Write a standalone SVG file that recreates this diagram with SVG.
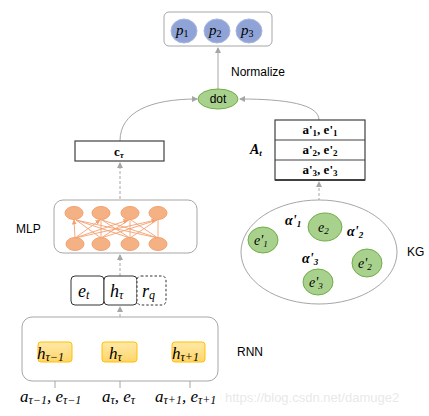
<svg xmlns="http://www.w3.org/2000/svg" width="429" height="416" viewBox="0 0 429 416">
<defs>
<marker id="ah" markerWidth="6" markerHeight="6" refX="5" refY="3" orient="auto" markerUnits="userSpaceOnUse"><path d="M0,0 L6,3 L0,6 z" fill="#a6a6a6"/></marker>
<marker id="ao" markerWidth="5" markerHeight="5" refX="4.5" refY="2.5" orient="auto" markerUnits="userSpaceOnUse"><path d="M0,0 L5,2.5 L0,5 z" fill="#f4a070"/></marker>
<linearGradient id="hg" x1="0" y1="0" x2="0" y2="1"><stop offset="0" stop-color="#ffe9a8"/><stop offset="1" stop-color="#ffd56a"/></linearGradient>
</defs>
<style>
.lbl{font-family:"Liberation Sans",Arial,sans-serif;font-size:12px;fill:#000}
.m{font-family:"Liberation Serif","DejaVu Serif",serif;font-style:italic;fill:#000}
.mb{font-family:"Liberation Serif","DejaVu Serif",serif;font-weight:bold;fill:#000}
.box{fill:#fff;stroke:#a6a6a6;stroke-width:1}
.blk{fill:#fff;stroke:#404040;stroke-width:1.2}
.p{fill:#8fa3d6;stroke:#a9b7e0;stroke-width:1}
.g{fill:#a9d18e;stroke:#70ad47;stroke-width:1}
.n{fill:#f4b183;stroke:#f4a070;stroke-width:1}
.h{fill:url(#hg);stroke:#ffc000;stroke-width:1}
.c{fill:none;stroke:#a6a6a6;stroke-width:1}
.d{fill:none;stroke:#a6a6a6;stroke-width:1;stroke-dasharray:3,2}
.o{stroke:#f4a070;stroke-width:0.9}
</style>

<g id="connectors">
<path class="c" d="M218,89 L218,48" marker-end="url(#ah)"/>
<path class="c" d="M120,141 C120,112 150,99 197,99" marker-end="url(#ah)"/>
<path class="c" d="M319,120 C319,104 285,99 240,99" marker-end="url(#ah)"/>
<path class="d" d="M120,199 L120,163" marker-end="url(#ah)"/>
<path class="d" d="M319,201 L319,182" marker-end="url(#ah)"/>
<path class="d" d="M120,276 L120,255" marker-end="url(#ah)"/>
<path class="d" d="M120,337 L120,307" marker-end="url(#ah)"/>
<path class="c" d="M55,342 C55,330 110,328 119,339" marker-end="url(#ah)"/>
<path class="c" d="M121,339 C130,328 188,330 188,341" marker-end="url(#ah)"/>
<path class="c" d="M55,388 L55,364" marker-end="url(#ah)"/>
<path class="c" d="M120,388 L120,364" marker-end="url(#ah)"/>
<path class="c" d="M190,388 L190,364" marker-end="url(#ah)"/>
<path class="c" d="M309,230 L279,238" marker-end="url(#ah)"/>
<path class="c" d="M322,241 L319,267" marker-end="url(#ah)"/>
<path class="c" d="M337,238 L354,252" marker-end="url(#ah)"/>
</g>

<g id="output">
<rect class="box" x="164" y="12" width="108" height="34" rx="5"/>
<ellipse class="p" cx="184" cy="31" rx="13" ry="12"/>
<ellipse class="p" cx="217" cy="31" rx="13" ry="12"/>
<ellipse class="p" cx="249" cy="31" rx="13" ry="12"/>
<text class="m" x="176" y="35" font-size="15">p<tspan font-size="10" dy="2" font-style="normal">1</tspan></text>
<text class="m" x="209" y="35" font-size="15">p<tspan font-size="10" dy="2" font-style="normal">2</tspan></text>
<text class="m" x="241" y="35" font-size="15">p<tspan font-size="10" dy="2" font-style="normal">3</tspan></text>
</g>
<text class="lbl" x="231" y="76">Normalize</text>

<g id="dot">
<ellipse class="g" cx="218" cy="99" rx="20" ry="10"/>
<text class="lbl" x="218" y="103" text-anchor="middle">dot</text>
</g>

<g id="ctau">
<rect class="blk" x="75" y="141" width="89" height="20"/>
<text class="mb" x="114" y="156" font-size="13">c<tspan class="m" font-size="9" dy="2" fill="#2f5597" font-weight="bold">τ</tspan></text>
</g>

<g id="At">
<text class="m" x="250" y="154" font-size="14" font-weight="bold">A<tspan font-size="9" dy="2">t</tspan></text>
<rect class="blk" x="275" y="120" width="90" height="60"/>
<line x1="275" y1="140" x2="365" y2="140" stroke="#404040" stroke-width="1.2"/>
<line x1="275" y1="160" x2="365" y2="160" stroke="#404040" stroke-width="1.2"/>
<line x1="275" y1="180" x2="365" y2="180" stroke="#404040" stroke-width="2"/>
<text class="mb" x="320" y="134" font-size="13" text-anchor="middle">a'<tspan font-size="9" dy="2">1</tspan><tspan dy="-2">, e'</tspan><tspan font-size="9" dy="2">1</tspan></text>
<text class="mb" x="320" y="154" font-size="13" text-anchor="middle">a'<tspan font-size="9" dy="2">2</tspan><tspan dy="-2">, e'</tspan><tspan font-size="9" dy="2">2</tspan></text>
<text class="mb" x="320" y="174" font-size="13" text-anchor="middle">a'<tspan font-size="9" dy="2">3</tspan><tspan dy="-2">, e'</tspan><tspan font-size="9" dy="2">3</tspan></text>
</g>

<g id="mlp">
<rect class="box" x="54" y="200" width="143" height="53" rx="9"/>
<g>
<line class="o" x1="75" y1="238" x2="74" y2="220" marker-end="url(#ao)"/>
<line class="o" x1="75" y1="238" x2="100" y2="220" marker-end="url(#ao)"/>
<line class="o" x1="75" y1="238" x2="128" y2="220" marker-end="url(#ao)"/>
<line class="o" x1="75" y1="238" x2="156" y2="220" marker-end="url(#ao)"/>
<line class="o" x1="101" y1="238" x2="76" y2="220"/>
<line class="o" x1="101" y1="238" x2="101" y2="220"/>
<line class="o" x1="101" y1="238" x2="129" y2="220"/>
<line class="o" x1="101" y1="238" x2="157" y2="220"/>
<line class="o" x1="130" y1="238" x2="76" y2="220"/>
<line class="o" x1="130" y1="238" x2="102" y2="220"/>
<line class="o" x1="130" y1="238" x2="130" y2="220"/>
<line class="o" x1="130" y1="238" x2="157" y2="220"/>
<line class="o" x1="158" y1="238" x2="76" y2="220"/>
<line class="o" x1="158" y1="238" x2="102" y2="220"/>
<line class="o" x1="158" y1="238" x2="131" y2="220"/>
<line class="o" x1="158" y1="238" x2="158" y2="220"/>
</g>
<ellipse class="n" cx="74" cy="213" rx="9" ry="6.5"/>
<ellipse class="n" cx="101" cy="213" rx="9" ry="6.5"/>
<ellipse class="n" cx="130" cy="213" rx="9" ry="6.5"/>
<ellipse class="n" cx="158" cy="213" rx="9" ry="6.5"/>
<ellipse class="n" cx="75" cy="244" rx="9" ry="6.5"/>
<ellipse class="n" cx="101" cy="244" rx="9" ry="6.5"/>
<ellipse class="n" cx="130" cy="244" rx="9" ry="6.5"/>
<ellipse class="n" cx="158" cy="244" rx="9" ry="6.5"/>
</g>
<text class="lbl" x="16" y="233">MLP</text>

<g id="tokens">
<rect x="71" y="276" width="33" height="29" rx="4" fill="#fff" stroke="#333" stroke-width="1"/>
<rect x="104" y="276" width="33" height="29" rx="4" fill="#fff" stroke="#333" stroke-width="1"/>
<rect x="137" y="276" width="29" height="29" rx="4" fill="#fff" stroke="#333" stroke-width="1" stroke-dasharray="2.5,2"/>
<text class="m" x="78" y="297" font-size="18">e<tspan font-size="12" dy="2">t</tspan></text>
<text class="m" x="110" y="297" font-size="18">h<tspan font-size="12" dy="2">τ</tspan></text>
<text class="m" x="142" y="297" font-size="18">r<tspan font-size="12" dy="2">q</tspan></text>
</g>

<g id="kg">
<ellipse cx="319" cy="252" rx="78" ry="52" fill="#fff" stroke="#a6a6a6" stroke-width="1"/>
<ellipse class="g" cx="325" cy="227" rx="17" ry="14"/>
<ellipse class="g" cx="263" cy="240" rx="15" ry="13"/>
<ellipse class="g" cx="367" cy="263" rx="15" ry="14"/>
<ellipse class="g" cx="318" cy="282" rx="15" ry="13"/>
<text class="m" x="318" y="232" font-size="14">e<tspan font-size="9" dy="2">2</tspan></text>
<text class="m" x="254" y="245" font-size="14">e'<tspan font-size="9" dy="2">1</tspan></text>
<text class="m" x="358" y="268" font-size="14">e'<tspan font-size="9" dy="2">2</tspan></text>
<text class="m" x="309" y="287" font-size="14">e'<tspan font-size="9" dy="2">3</tspan></text>
<text class="m" x="285" y="225" font-size="14" font-weight="bold">α'<tspan font-size="9" dy="2">1</tspan></text>
<text class="m" x="347" y="236" font-size="14" font-weight="bold">α'<tspan font-size="9" dy="2">2</tspan></text>
<text class="m" x="302" y="263" font-size="14" font-weight="bold">α'<tspan font-size="9" dy="2">3</tspan></text>
</g>
<text class="lbl" x="407" y="256">KG</text>

<g id="rnn">
<rect class="box" x="22" y="317" width="196" height="64" rx="10"/>
<rect class="h" x="38" y="342" width="34" height="20" rx="3"/>
<rect class="h" x="102" y="342" width="35" height="20" rx="3"/>
<rect class="h" x="172" y="342" width="33" height="20" rx="3"/>
<text class="m" x="37" y="359" font-size="17">h<tspan font-size="12" dy="2">τ−1</tspan></text>
<text class="m" x="109" y="359" font-size="17">h<tspan font-size="12" dy="2">τ</tspan></text>
<text class="m" x="172" y="359" font-size="17">h<tspan font-size="12" dy="2">τ+1</tspan></text>
</g>
<text class="lbl" x="237" y="356">RNN</text>

<g id="inputs">
<text class="m" x="20" y="402" font-size="17">a<tspan font-size="12" dy="2">τ−1</tspan><tspan dy="-2">, e</tspan><tspan font-size="12" dy="2">τ−1</tspan></text>
<text class="m" x="102" y="402" font-size="17">a<tspan font-size="12" dy="2">τ</tspan><tspan dy="-2">, e</tspan><tspan font-size="12" dy="2">τ</tspan></text>
<text class="m" x="155" y="402" font-size="17">a<tspan font-size="12" dy="2">τ+1</tspan><tspan dy="-2">, e</tspan><tspan font-size="12" dy="2">τ+1</tspan></text>
</g>
<text x="225" y="402" font-family="Liberation Sans,Arial,sans-serif" font-size="13" fill="#e6e6e6" fill-opacity="0.9">https://blog.csdn.net/damuge2</text>
</svg>
